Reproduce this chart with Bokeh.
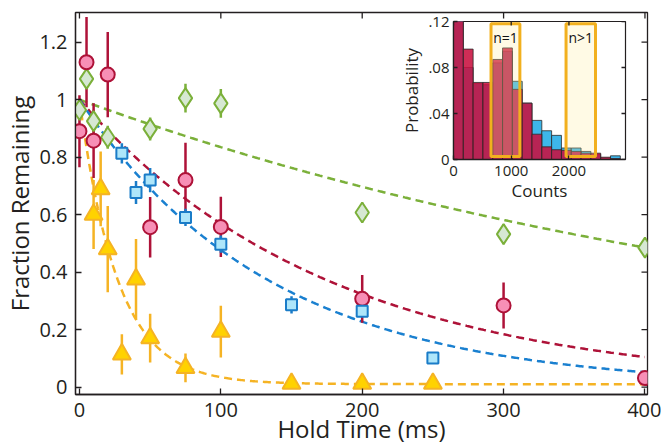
import numpy as np
from bokeh.plotting import figure
from bokeh.models import Range1d, FixedTicker
from bokeh.core.properties import value
from bokeh.embed import file_html
from bokeh.resources import INLINE

# ---------------- data ----------------
red_t = [0, 5, 10, 20, 50, 75, 100, 200, 300, 400]
red_y = [0.89, 1.13, 0.857, 1.087, 0.556, 0.72, 0.557, 0.307, 0.284, 0.031]
red_err = [0.125, 0.157, 0.13, 0.148, 0.105, 0.13, 0.105, 0.083, 0.08, 0.0]

blue_t = [30, 40, 50, 75, 100, 150, 200, 250]
blue_y = [0.813, 0.677, 0.72, 0.59, 0.497, 0.286, 0.264, 0.101]
blue_err = [0.035, 0.04, 0.042, 0.03, 0.03, 0.03, 0.02, 0.01]

green_t = [0, 5, 10, 20, 50, 75, 100, 200, 300, 400]
green_y = [0.964, 1.072, 0.925, 0.869, 0.898, 1.005, 0.987, 0.607, 0.532, 0.485]
green_err = [0.03, 0.03, 0.04, 0.04, 0.04, 0.05, 0.05, 0.035, 0.035, 0.03]

yellow_t = [10, 15, 20, 30, 40, 50, 75, 100, 150, 200, 250]
yellow_y = [0.60, 0.689, 0.48, 0.114, 0.375, 0.17, 0.067, 0.193, 0.012, 0.012, 0.012]
yellow_err = [0.12, 0.13, 0.15, 0.07, 0.14, 0.085, 0.05, 0.09, 0.0, 0.0, 0.0]

# exponential fit parameters: y = offset + (1 - offset) * exp(-t / tau)
fit_tau = {"green": 553.0, "red": 177.0, "blue": 135.0, "yellow": 27.0}
fit_offset = {"green": 0.0, "red": 0.0, "blue": 0.0, "yellow": 0.01}

x_ticks = [0, 100, 200, 300, 400]
y_ticks = [0, 0.2, 0.4, 0.6, 0.8, 1.0, 1.2]

# inset histogram
bin_edges = [0, 170, 340, 510, 680, 850, 1020, 1190, 1360, 1530, 1700,
             1870, 2040, 2210, 2380, 2550, 2720, 2890]
hist_blue = [0.125, 0.080, 0.066, 0.065, 0.084, 0.094, 0.068, 0.049, 0.034,
             0.025, 0.021, 0.010, 0.010, 0.007, 0.0045, 0.0014, 0.0032]
hist_red = [0.125, 0.096, 0.067, 0.067, 0.087, 0.097, 0.061, 0.049, 0.022,
            0.011, 0.0085, 0.008, 0.007, 0.0055, 0.0055, 0.002, 0.0008]
gate_left = [650, 1950]
gate_right = [1150, 2460]
gate_labels = ["n=1", "n>1"]
inset_x_ticks = [0, 1000, 2000, 3000]
inset_y_ticks = [0, 0.04, 0.08, 0.12]

# ---------------- styles ----------------
FONT = "Open Sans"
TXT = "#231f20"
C_RED, F_RED = "#ae1238", "#f78fb6"
C_BLUE, F_BLUE = "#1a7cc8", "#aee6fa"
C_GREEN, F_GREEN = "#7bb03a", "#d6e8d3"
C_YEL, F_YEL = "#f5b324", "#ffd200"


def style_axis(ax, size, standoff, tick_len=6):
    ax.major_tick_in = tick_len
    ax.major_tick_out = 0
    ax.minor_tick_line_color = None
    ax.major_label_text_font = FONT
    ax.major_label_text_font_size = size
    ax.major_label_text_color = TXT
    ax.major_label_standoff = standoff
    ax.axis_line_color = TXT
    ax.axis_line_width = 1.3
    ax.major_tick_line_color = TXT
    ax.major_tick_line_width = 1.3
    ax.axis_label_text_font = FONT
    ax.axis_label_text_font_style = "normal"
    ax.axis_label_text_color = TXT


def mirror_ticks(fig, xr, yr, xt, yt, frame_w, frame_h, tick_len):
    """Inward ticks on the top and right edges (box-style frame)."""
    dy = tick_len * (yr.end - yr.start) / frame_h
    dx = tick_len * (xr.end - xr.start) / frame_w
    fig.segment(x0=xt, y0=[yr.end] * len(xt), x1=xt, y1=[yr.end - dy] * len(xt),
                line_color=TXT, line_width=1.3)
    fig.segment(x0=[xr.end] * len(yt), y0=yt, x1=[xr.end - dx] * len(yt), y1=yt,
                line_color=TXT, line_width=1.3)


# ---------------- main figure ----------------
W, H = 661, 447
ML, MR, MT, MB = 75, 14, 12, 53
xr = Range1d(-2.8, 401.8)
yr = Range1d(-0.026, 1.303)
main = figure(width=W, height=H, x_range=xr, y_range=yr, output_backend="svg",
              toolbar_location=None, min_border_left=ML, min_border_right=MR,
              min_border_top=MT, min_border_bottom=MB)
main.grid.visible = False
main.outline_line_color = TXT
main.outline_line_width = 1.3

main.xaxis.ticker = FixedTicker(ticks=x_ticks)
main.yaxis.ticker = FixedTicker(ticks=y_ticks)
main.yaxis.major_label_overrides = {0: "0", 1: "1"}
style_axis(main.xaxis[0], "20px", 8)
style_axis(main.yaxis[0], "20px", 8)
main.xaxis.axis_label = "Hold Time (ms)"
main.xaxis.axis_label_text_font_size = "24px"
main.xaxis.axis_label_standoff = -8
main.yaxis.axis_label = "Fraction Remaining"
main.yaxis.axis_label_text_font_size = "24px"
main.yaxis.axis_label_standoff = 0
mirror_ticks(main, xr, yr, x_ticks, y_ticks, W - ML - MR, H - MT - MB, 6)

t_fit = np.linspace(0, 400, 401)
for key, col in [("green", C_GREEN), ("red", C_RED), ("blue", "#1a80d0"), ("yellow", C_YEL)]:
    off, tau = fit_offset[key], fit_tau[key]
    main.line(t_fit, off + (1 - off) * np.exp(-t_fit / tau), line_color=col,
              line_width=2.5, line_dash="8 5")

series = [
    (green_t, green_y, green_err, C_GREEN, F_GREEN, "diamond", 20),
    (red_t, red_y, red_err, C_RED, F_RED, "circle", 14),
    (blue_t, blue_y, blue_err, C_BLUE, F_BLUE, "square", 11),
    (yellow_t, yellow_y, yellow_err, C_YEL, F_YEL, "triangle", 18),
]
for t, y, e, lc, fc, mk, sz in series:
    y = np.array(y)
    e = np.array(e)
    main.segment(x0=t, y0=y - e, x1=t, y1=y + e, line_color=lc, line_width=2.5)
for t, y, e, lc, fc, mk, sz in series:
    main.scatter(t, y, marker=mk, size=sz, fill_color=fc, line_color=lc,
                 line_width=2)

# ---------------- inset ----------------
IL, IR, IT, IB = 58, 20, 11, 48
IFW, IFH = 172, 138
IW, IH = IL + IFW + IR, IT + IFH + IB
ixr = Range1d(0, 2980)
iyr = Range1d(0, 0.12)
inset = figure(width=IW, height=IH, x_range=ixr, y_range=iyr,
               output_backend="svg", toolbar_location=None,
               min_border_left=IL, min_border_right=IR,
               min_border_top=IT, min_border_bottom=IB)
inset.grid.visible = False
inset.outline_line_color = TXT
inset.outline_line_width = 1.2
inset.background_fill_color = "white"
inset.border_fill_alpha = 0
inset.xaxis.ticker = FixedTicker(ticks=inset_x_ticks)
inset.yaxis.ticker = FixedTicker(ticks=inset_y_ticks)
inset.yaxis.major_label_overrides = {0: "0", 0.04: ".04", 0.08: ".08", 0.12: ".12"}
style_axis(inset.xaxis[0], "15px", 6, tick_len=4)
style_axis(inset.yaxis[0], "15px", 4, tick_len=4)
inset.xaxis.axis_label = "Counts"
inset.xaxis.axis_label_text_font_size = "17px"
inset.xaxis.axis_label_standoff = 0
inset.yaxis.axis_label = "Probability"
inset.yaxis.axis_label_text_font_size = "17px"
inset.yaxis.axis_label_standoff = 2

left = bin_edges[:-1]
right = bin_edges[1:]
inset.quad(left=left, right=right, bottom=0, top=hist_blue,
           fill_color="#3db6ea", line_color="#2a2a2a", line_width=0.8)
inset.quad(left=left, right=right, bottom=0, top=hist_red,
           fill_color="#c8103f", fill_alpha=0.88, line_color="#2a2a2a",
           line_width=0.8)
inset.quad(left=gate_left, right=gate_right, bottom=0.0026, top=0.118,
           fill_color="#ffec99", fill_alpha=0.25, line_color="#f2b01e",
           line_width=3)
gate_mid = [(a + b) / 2 for a, b in zip(gate_left, gate_right)]
inset.text(x=gate_mid, y=[0.1065] * 2, text=gate_labels,
           text_font=value(FONT), text_font_size="14px", text_color="#111111",
           text_align="center", text_baseline="middle")
mirror_ticks(inset, ixr, iyr, inset_x_ticks, inset_y_ticks, IFW, IFH, 4)

# place the inset over the main axes: its frame at x=453, y=21 of the page
inset.styles = {"position": "absolute", "left": f"{453 - IL}px",
                "top": f"{21 - IT}px", "z-index": "10"}

open("out.html", "w").write(file_html([main, inset], INLINE))
